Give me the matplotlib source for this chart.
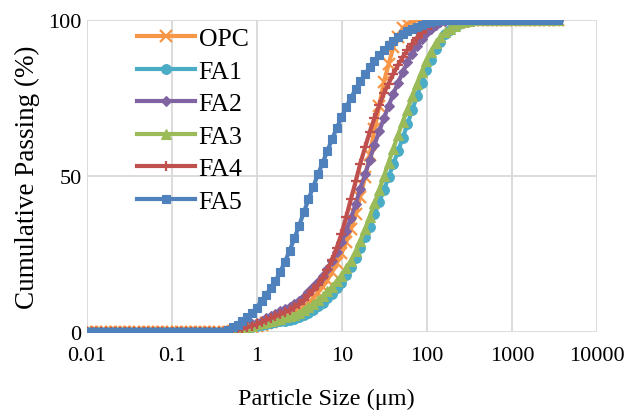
import matplotlib
matplotlib.use("Agg")
import matplotlib.pyplot as plt

plt.rcParams["font.family"] = ["Liberation Serif", "DejaVu Serif"]

# particle size classes (um), laser diffraction bins
sizes = [0.0100, 0.0114, 0.0129, 0.0147, 0.0167, 0.0189, 0.0215, 0.0244, 0.0278, 0.0315,
         0.0358, 0.0407, 0.0463, 0.0526, 0.0597, 0.0679, 0.0771, 0.0876, 0.0995, 0.113,
         0.128, 0.146, 0.166, 0.188, 0.214, 0.243, 0.276, 0.314, 0.357, 0.405,
         0.460, 0.523, 0.594, 0.675, 0.767, 0.872, 0.991, 1.13, 1.28, 1.45,
         1.65, 1.88, 2.13, 2.42, 2.75, 3.12, 3.55, 4.03, 4.58, 5.21,
         5.92, 6.72, 7.64, 8.68, 9.86, 11.2, 12.7, 14.5, 16.4, 18.7,
         21.2, 24.1, 27.4, 31.1, 35.3, 40.1, 45.6, 51.8, 58.9, 66.9,
         76.0, 86.4, 98.1, 111, 127, 144, 163, 186, 211, 240,
         272, 310, 352, 400, 454, 516, 586, 666, 756, 859,
         976, 1110, 1260, 1430, 1630, 1850, 2100, 2390, 2710, 3080,
         3500]

# cumulative passing (%), one value per size class
opc = [0] * 30 + [
    0.1, 0.31, 0.51, 0.81, 1.2, 1.58, 2.0, 2.38, 2.8, 3.2,
    3.68, 4.23, 4.79, 5.34, 6.09, 6.93, 8.0, 9.2, 10.8, 12.6,
    14.5, 16.7, 19.2, 22.1, 25.2, 28.9, 33.0, 37.9, 43.3, 49.7,
    56.8, 64.9, 72.5, 80.1, 85.8, 91.2, 94.5, 97.4, 98.8, 99.6,
    99.9] + [100] * 30
fa1 = [0] * 30 + [
    0.1, 0.31, 0.51, 0.81, 1.2, 1.58, 2.0, 2.26, 2.54, 2.81,
    3.09, 3.37, 3.65, 3.92, 4.27, 4.67, 5.35, 6.1, 7.1, 8.2,
    9.4, 10.8, 12.3, 14.0, 15.8, 18.2, 20.8, 23.8, 27.0, 30.3,
    33.8, 37.7, 41.6, 45.5, 49.6, 53.8, 57.9, 62.2, 66.6, 71.1,
    75.5, 79.7, 83.9, 87.3, 90.6, 93.1, 95.4, 96.9, 98.1, 98.8,
    99.4, 99.7, 99.9] + [100] * 18
fa2 = [0] * 30 + [
    0.3, 0.6, 0.87, 1.3, 1.85, 2.4, 3.0, 3.66, 4.39, 5.1,
    5.84, 6.59, 7.34, 8.08, 8.96, 9.9, 11.25, 12.7, 14.3, 16.1,
    18.0, 20.2, 22.7, 25.6, 28.7, 32.4, 36.4, 41.1, 45.9, 50.5,
    55.2, 60.0, 64.3, 68.5, 72.4, 76.3, 79.8, 83.3, 86.4, 89.2,
    91.6, 93.8, 95.7, 97.2, 98.5, 99.2, 99.7, 99.9] + [100] * 23
fa3 = [0] * 30 + [
    0.2, 0.45, 0.69, 1.04, 1.48, 1.92, 2.4, 2.76, 3.15, 3.53,
    3.93, 4.31, 4.7, 5.09, 5.6, 6.15, 7.0, 7.9, 9.0, 10.2,
    11.5, 13.0, 14.5, 16.3, 18.1, 20.4, 22.8, 25.8, 29.1, 33.0,
    37.0, 41.2, 45.5, 49.9, 54.3, 58.8, 63.1, 67.4, 71.3, 75.5,
    79.6, 83.3, 87.0, 89.9, 92.6, 94.4, 96.1, 97.2, 98.2, 98.9,
    99.4, 99.7, 99.9] + [100] * 18
fa4 = [0] * 30 + [
    0.2, 0.45, 0.69, 1.05, 1.52, 1.99, 2.5, 3.09, 3.73, 4.36,
    5.03, 5.71, 6.41, 7.1, 7.96, 8.9, 10.25, 11.7, 13.3, 15.2,
    17.4, 20.0, 23.1, 27.0, 31.5, 36.9, 42.5, 48.3, 54.0, 59.2,
    64.1, 68.6, 72.6, 76.5, 79.6, 82.7, 85.5, 88.1, 90.3, 92.4,
    94.3, 95.9, 97.3, 98.3, 99.2, 99.7] + [100] * 25
fa5 = [0] * 30 + [
    0.7, 1.5, 2.3, 3.5, 4.8, 6.2, 7.8, 10.0, 12.0, 14.0,
    16.3, 19.3, 22.5, 26.0, 30.0, 34.0, 38.3, 42.5, 46.5, 50.5,
    54.2, 58.0, 61.8, 65.4, 68.8, 72.0, 75.0, 77.8, 80.3, 82.6,
    84.8, 87.0, 88.8, 90.5, 92.0, 93.3, 94.5, 95.5, 96.4, 97.2,
    97.9, 98.5, 99.0, 99.4, 99.7, 99.9] + [100] * 25

series_names = ["OPC", "FA1", "FA2", "FA3", "FA4", "FA5"]
series_vals = [opc, fa1, fa2, fa3, fa4, fa5]
colors = ["#F79646", "#4BACC6", "#8064A2", "#9BBB59", "#C0504D", "#4F81BD"]
markers = ["x", "o", "D", "^", "+", "s"]
msizes = [8, 7, 5.5, 7, 7, 6]

x_ticks = [0.01, 0.1, 1, 10, 100, 1000, 10000]
x_tick_labels = ["0.01", "0.1", "1", "10", "100", "1000", "10000"]
y_ticks = [0, 50, 100]

fig = plt.figure(figsize=(6.31, 4.14), dpi=100)
ax = fig.add_axes([0.1379, 0.1957, 0.8082, 0.7536])

for name, vals, c, m, ms in zip(series_names, series_vals, colors, markers, msizes):
    ax.plot(sizes, vals, color=c, marker=m, markersize=ms, lw=3.0,
            markeredgewidth=1.6 if m in ("x", "+") else 0.8,
            markeredgecolor=c, label=name)

ax.set_xscale("log")
ax.set_xlim(0.01, 10000)
ax.set_ylim(0, 100)
ax.set_xticks(x_ticks)
ax.set_xticklabels(x_tick_labels)
ax.minorticks_off()
ax.set_yticks(y_ticks)
ax.tick_params(length=0, labelsize=16)
ax.tick_params(axis="x", pad=10)
ax.tick_params(axis="y", pad=4)
ax.grid(True, color="#D9D9D9", lw=1.3)
ax.set_axisbelow(True)
for s in ax.spines.values():
    s.set_visible(False)
ax.set_xlabel("Particle Size (\u03bcm)", fontsize=17.5)
ax.xaxis.set_label_coords(0.47, -0.178)
ax.set_ylabel("Cumulative Passing (%)", fontsize=19.5, labelpad=6)

ax.legend(loc="upper left", bbox_to_anchor=(0.093, 0.985), frameon=False,
          fontsize=18.5, handlelength=2.25, labelspacing=0.37,
          handletextpad=0.15, borderpad=0.1, borderaxespad=0.0)

fig.savefig("out.png", dpi=100)
